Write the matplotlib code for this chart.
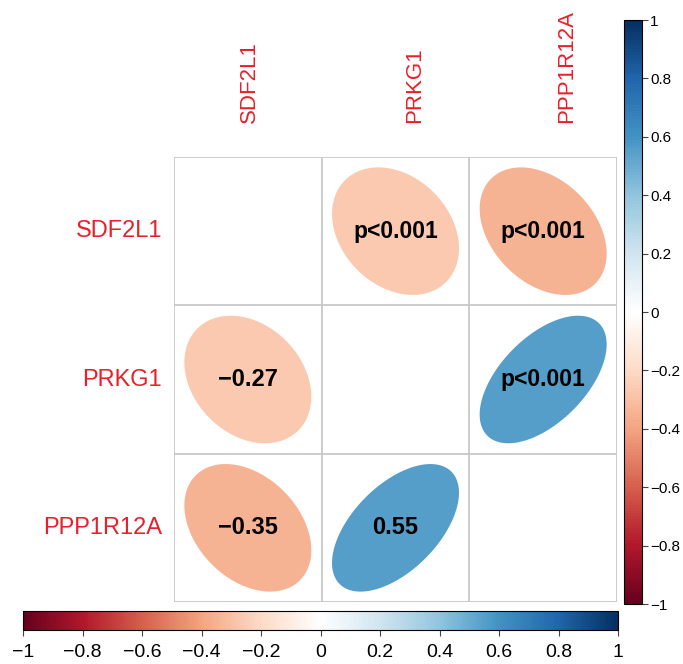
import numpy as np
import matplotlib
matplotlib.use("Agg")
import matplotlib.pyplot as plt
from matplotlib.colors import LinearSegmentedColormap, Normalize
from matplotlib.cm import ScalarMappable

plt.rcParams["font.family"] = ["Liberation Sans", "DejaVu Sans"]

genes = ["SDF2L1", "PRKG1", "PPP1R12A"]
corr = np.array([
    [1.00, -0.27, -0.35],
    [-0.27, 1.00, 0.55],
    [-0.35, 0.55, 1.00],
])
pvals = [["", "p<0.001", "p<0.001"],
         ["", "", "p<0.001"],
         ["", "", ""]]
cbar_ticks = [-1, -0.8, -0.6, -0.4, -0.2, 0, 0.2, 0.4, 0.6, 0.8, 1]

# corrplot RdBu palette
rdbu = ["#67001F", "#B2182B", "#D6604D", "#F4A582", "#FDDBC7", "#FFFFFF",
        "#D1E5F0", "#92C5DE", "#4393C3", "#2166AC", "#053061"]
cmap = LinearSegmentedColormap.from_list("corr_rdbu", rdbu, N=200)
norm = Normalize(-1, 1)

W, H = 683, 664
fig = plt.figure(figsize=(W / 100, H / 100), dpi=100)


def px_axes(x0, y0, x1, y1):
    # pixel box (top-left origin) -> figure fraction axes
    return fig.add_axes([x0 / W, 1 - y1 / H, (x1 - x0) / W, (y1 - y0) / H])


n = len(genes)
ax = px_axes(174, 157, 617, 602)
ax.set_xlim(0, n)
ax.set_ylim(0, n)
ax.axis("off")

# grid
for k in range(n + 1):
    ax.plot([k, k], [0, n], color="#C8C8C8", lw=1.3, zorder=1)
    ax.plot([0, n], [k, k], color="#C8C8C8", lw=1.3, zorder=1)

t = np.linspace(0, 2 * np.pi, 200)
scale = 0.43
for i in range(n):
    for j in range(n):
        if i == j:
            continue
        r = corr[i, j]
        d = np.arccos(r)
        cx = j + 0.5
        cy = n - 1 - i + 0.5
        ex = cx + scale * np.cos(t + d / 2)
        ey = cy + scale * np.cos(t - d / 2)
        ax.fill(ex, ey, color=cmap(norm(r)), lw=0, zorder=2)
        if i > j:
            label = f"{r:.2f}".replace("-", "\u2212")
            ax.text(cx, cy, label, ha="center", va="center",
                    fontsize=17, fontweight="bold", zorder=3)
        else:
            ax.text(cx, cy, pvals[i][j], ha="center", va="center",
                    fontsize=16.5, fontweight="bold", zorder=3)

# variable names
col_shift = [0.01, 0.13, 0.16]
for k, g in enumerate(genes):
    ax.text(-0.08, n - 1 - k + 0.5, g, ha="right", va="center",
            color="#E8202A", fontsize=17, clip_on=False)
    ax.text(k + 0.5 + col_shift[k], n + 0.23, g, ha="center", va="bottom",
            rotation=90, color="#E8202A", fontsize=16, clip_on=False)

sm = ScalarMappable(norm=norm, cmap=cmap)
tick_labels = [f"{v:g}".replace("-", "\u2212") for v in cbar_ticks]

# vertical colour bar
cax_v = px_axes(624, 20, 642, 604)
cb_v = fig.colorbar(sm, cax=cax_v, orientation="vertical")
cb_v.set_ticks(cbar_ticks)
cb_v.set_ticklabels(tick_labels)
cb_v.ax.tick_params(labelsize=11, length=4, width=0.8, color="#444444", pad=2)
cb_v.outline.set_linewidth(0.8)

# horizontal colour bar
cax_h = px_axes(23, 611, 618, 630)
cb_h = fig.colorbar(sm, cax=cax_h, orientation="horizontal")
cb_h.set_ticks(cbar_ticks)
cb_h.set_ticklabels(tick_labels)
cb_h.ax.tick_params(labelsize=14, length=4, width=0.8, color="#444444", pad=6)
cb_h.outline.set_linewidth(0.8)

fig.savefig("out.png", dpi=100)
